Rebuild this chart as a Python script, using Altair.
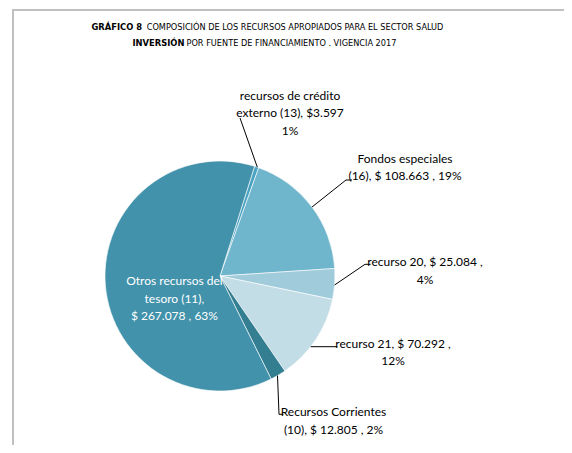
import math
import altair as alt
import pandas as pd

# ---- data ----
fuentes = ["recursos de crédito externo (13)", "Fondos especiales (16)", "recurso 20",
           "recurso 21", "Recursos Corrientes (10)", "Otros recursos del tesoro (11)"]
participacion = [0.6, 18.5, 4.3, 12.2, 2.2, 62.2]   # share of the pie
etiquetas = [
    "recursos de crédito\nexterno (13), $3.597\n1%",
    "Fondos especiales\n(16),  $ 108.663 , 19%",
    "recurso 20,  $ 25.084 ,\n4%",
    "recurso 21,  $ 70.292 ,\n12%",
    "Recursos Corrientes\n(10),  $ 12.805 , 2%",
    "Otros recursos del\ntesoro (11),\n$ 267.078 , 63%",
]
colores = ["#4BA3C3", "#6FB6CD", "#9FCBDA", "#C3DDE6", "#347E91", "#4292AB"]
titulo_l1 = ["GRÁFICO 8", "COMPOSICIÓN DE LOS RECURSOS  APROPIADOS PARA EL SECTOR SALUD"]
titulo_l2 = ["INVERSIÓN", "POR FUENTE  DE FINANCIAMIENTO .  VIGENCIA  2017"]

# ---- layout ----
W, H = 556, 437
CX, CY, R = 212, 267, 115
START = math.radians(17.5)
FONT = "Lato"
FONT_T = "Liberation Sans Narrow, Arial Narrow, DejaVu Sans Condensed, sans-serif"
lab_x = [282, 397, 417, 385, 325.5, 166.4]
lab_y = [86.3, 149.3, 253, 334.7, 403, 272]
lab_color = ["#000000"] * 5 + ["#FFFFFF"]
seg = [  # leader line segments x, y, x2, y2
    (232, 109, 249.3, 158.2),
    (344, 171, 338, 171), (338, 171, 304, 198),
    (362.7, 255.3, 357, 255.3), (357, 255.3, 326.6, 276),
    (302.7, 337.7, 329.3, 337.7),
    (269.5, 366.6, 271, 405.3), (271, 405.3, 275.3, 405.3),
]

df = pd.DataFrame({"fuente": fuentes, "valor": participacion, "orden": range(len(fuentes))})
pie = alt.Chart(df).mark_arc(outerRadius=R, stroke="white", strokeWidth=0.6).encode(
    theta=alt.Theta("valor:Q", stack=True, scale=alt.Scale(range=[START, START + 2 * math.pi])),
    order=alt.Order("orden:Q"),
    color=alt.Color("fuente:N", scale=alt.Scale(domain=fuentes, range=colores), legend=None),
    x=alt.value(CX), y=alt.value(CY),
)

dl = pd.DataFrame({"t": etiquetas, "x": lab_x, "y": [v + 4.2 for v in lab_y], "c": lab_color})
labels = alt.Chart(dl).mark_text(font=FONT, fontSize=12, align="center", baseline="alphabetic",
                                 lineBreak="\n", lineHeight=17.5).encode(
    x=alt.X("x:Q", scale=None), y=alt.Y("y:Q", scale=None),
    text="t:N", color=alt.Color("c:N", scale=None),
)

ds = pd.DataFrame(seg, columns=["x", "y", "x2", "y2"])
leaders = alt.Chart(ds).mark_rule(color="black", strokeWidth=1).encode(
    x=alt.X("x:Q", scale=None), y=alt.Y("y:Q", scale=None),
    x2="x2:Q", y2="y2:Q",
)

def title_part(txt, x, y, bold, size):
    return alt.Chart(pd.DataFrame({"t": [txt]})).mark_text(
        font=FONT_T, fontSize=size, fontWeight="bold" if bold else "normal",
        align="left", baseline="middle", color="black").encode(
        x=alt.value(x), y=alt.value(y), text="t:N")

t1a = title_part(titulo_l1[0], 83.5, 17.7, True, 9.3)
t1b = title_part(titulo_l1[1], 138.7, 17.7, False, 9.1)
t2a = title_part(titulo_l2[0], 124.5, 34.3, True, 9.3)
t2b = title_part(titulo_l2[1], 178.5, 34.3, False, 9.1)

frame_left = alt.Chart(pd.DataFrame({"a": [0]})).mark_rule(color="#C0C0C0", strokeWidth=2).encode(
    x=alt.value(5), y=alt.value(0), y2=alt.value(H))
frame_top = alt.Chart(pd.DataFrame({"a": [0]})).mark_rule(color="#C0C0C0", strokeWidth=2).encode(
    x=alt.value(5), x2=alt.value(W), y=alt.value(1))

chart = alt.layer(frame_left, frame_top, pie, leaders, labels, t1a, t1b, t2a, t2b).properties(
    width=W, height=H, padding=0,
    autosize=alt.AutoSizeParams(type="fit", contains="padding"),
    background="white",
).configure_view(stroke=None)

chart.save("out.html", embed_options={"renderer": "svg", "actions": False})
